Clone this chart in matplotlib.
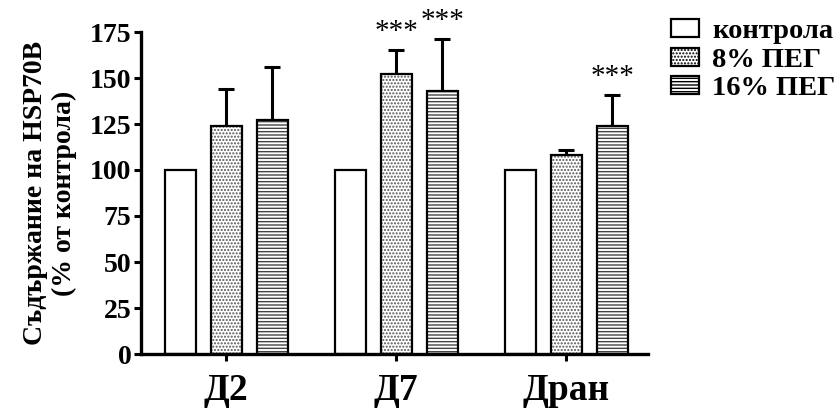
import matplotlib
matplotlib.use("Agg")
import matplotlib.pyplot as plt
from matplotlib.patches import Patch
import numpy as np

categories = ["Д2", "Д7", "Дран"]
series_names = ["контрола", "8% ПЕГ", "16% ПЕГ"]
control = [100, 100, 100]
peg8 = [124, 152, 108]
peg16 = [127, 143, 124]
err_control = [0, 0, 0]
err_peg8 = [20, 13, 3]
err_peg16 = [29, 28, 17]
stars_peg8 = ["", "***", ""]
stars_peg16 = ["", "***", "***"]
yticks = [0, 25, 50, 75, 100, 125, 150, 175]

plt.rcParams['font.family'] = ['Liberation Serif', 'DejaVu Serif']
plt.rcParams['font.weight'] = 'bold'
plt.rcParams['hatch.linewidth'] = 1.0

fig = plt.figure(figsize=(8.4, 4.12), dpi=100)
ax = fig.add_axes([141/840, 1-354/412, (648-141)/840, (354-32)/412])

x = np.arange(len(categories))
off = 46/170
w = 31/170
lw = 1.6

series = [
    (control, err_control, None, 'black', None),
    (peg8, err_peg8, '.....', '#555555', stars_peg8),
    (peg16, err_peg16, '-----', '#444444', stars_peg16),
]
handles = []
for i, (vals, errs, hatch, hcol, stars) in enumerate(series):
    pos = x + (i - 1) * off
    if any(e > 0 for e in errs):
        ax.errorbar(pos, vals, yerr=[np.zeros(len(vals)), errs], fmt='none',
                    ecolor='black', elinewidth=2.2, capsize=6, capthick=2.2, zorder=1)
    if hatch:
        ax.bar(pos, vals, width=w, color='white', edgecolor=hcol, hatch=hatch,
               linewidth=0, zorder=2)
    ax.bar(pos, vals, width=w, color='none', edgecolor='black', linewidth=lw, zorder=3)
    if stars:
        for p, v, e, s in zip(pos, vals, errs, stars):
            if s:
                ax.text(p, v + e + 6, s, ha='center', va='baseline',
                        fontsize=21, fontweight='normal', clip_on=False)
    handles.append(Patch(facecolor='white', edgecolor=hcol if hatch else 'black',
                         hatch=hatch, linewidth=lw))

ax.set_xlim(-0.5, 2.48)
ax.set_ylim(0, 175)
ax.set_yticks(yticks)
ax.set_xticks(x)
ax.set_xticklabels(categories, fontsize=27, fontweight='bold')
ax.tick_params(axis='y', labelsize=20, width=2.2, length=5, pad=2)
ax.tick_params(axis='x', width=2.2, length=5, pad=9)
for lab in ax.get_yticklabels():
    lab.set_fontweight('bold')
for s in ['top', 'right']:
    ax.spines[s].set_visible(False)
for s in ['left', 'bottom']:
    ax.spines[s].set_linewidth(2.4)

ax.set_ylabel("Съдържание на HSP70B\n(% от контрола)", fontsize=20,
              fontweight='bold', labelpad=9, linespacing=1.2)

leg = fig.legend(handles, series_names, loc='upper left',
                 bbox_to_anchor=(671/840, 1-19/412),
                 frameon=False, prop={'weight': 'bold', 'size': 20.5},
                 handlelength=1.0, handleheight=0.58, handletextpad=0.45,
                 labelspacing=0.13, borderaxespad=0, borderpad=0)
for h in leg.legend_handles:
    h.set_edgecolor('black')

fig.savefig("out.png", dpi=100)
